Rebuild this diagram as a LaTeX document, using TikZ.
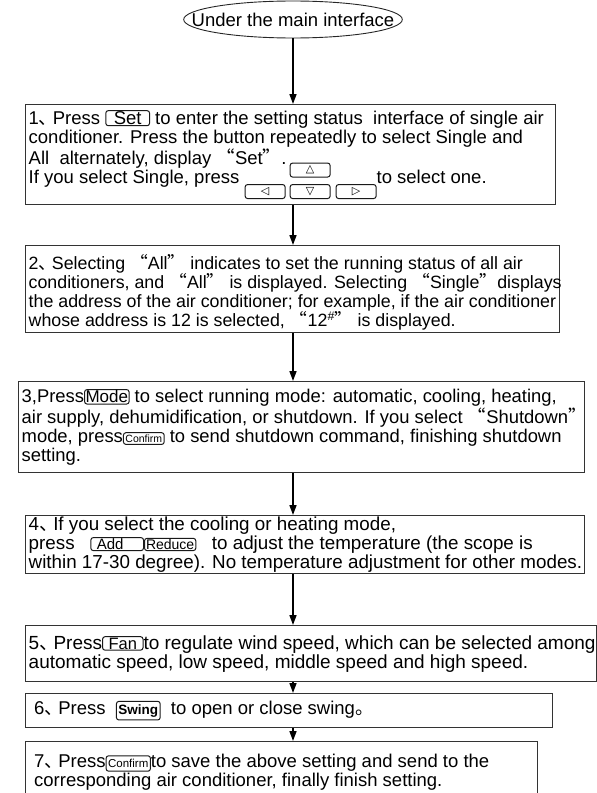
\documentclass[tikz,border=0pt]{standalone}
\usepackage{fontspec}
\setmainfont{Liberation Sans}
\newfontfamily\cjk{Noto Sans CJK SC}
\newfontfamily\symfont{DejaVu Sans}
\usetikzlibrary{arrows.meta, shapes.geometric, positioning}

\newcommand{\ql}{{\cjk “}}
\newcommand{\qr}{{\cjk ”}}
\newcommand{\dun}{\makebox[0.75em][l]{\cjk 、}}

\tikzset{keycap/.style={draw=black!90, line width=1bp, rounded corners=2.5bp,
                        minimum width=0pt, minimum height=0pt,
                        inner xsep=2bp, inner ysep=1bp, anchor=base}}
\tikzset{padkey/.style={keycap, anchor=center, minimum width=40bp,
                        minimum height=14bp, inner sep=0pt,
                        font=\symfont\fontsize{11bp}{11bp}\selectfont}}

% key caps inside the step texts
\newcommand{\btn}[3][]{\tikz[baseline=(k.base)]\node[keycap,
  font=\fontsize{#2}{#2}\selectfont,#1] (k) {#3};}
\newcommand{\padkeys}{\raisebox{0pt}[0pt][\depth]{\tikz[baseline=0bp, x=1bp, y=1bp]{%
  \node[padkey] (pu) at (65,13) {△};
  \node[padkey] (pl) at (20,-8.5) {◁};
  \node[padkey] (pd) at (65,-8.5) {▽};
  \node[padkey] (pr) at (111,-8.5) {▷};}}}

\begin{document}
\begin{tikzpicture}[x=1bp, y=-1bp]
        % Setup the styles for the boxes
        \tikzset{start style/.style={ellipse, draw=black!85, line width=0.9bp,
                                     minimum width=212bp, minimum height=37bp,
                                     inner xsep=-24bp, inner ysep=1bp,
                                     font=\fontsize{18.5bp}{19bp}\selectfont},
                 stepbox/.style={draw=black!80, line width=1.2bp,
                                 anchor=north west, inner sep=0pt},
                 steptext/.style={anchor=west, align=left, inner sep=0pt,
                                  font=\fontsize{#1}{19bp}\selectfont},
                 steptext/.default=18.5bp,
                 flow/.style={line width=1.6bp, -{Triangle[length=10bp,width=7bp]}}}
        \useasboundingbox (0,0) rectangle (597,793);

        % Draw the start and the step boxes
        \node[start style] at (293, 19.5) (top) {Under the main interface};
        \node[stepbox, minimum width=530bp, minimum height=100bp] at (25, 104) (s1) {};
        \node[stepbox, minimum width=534bp, minimum height=87bp] at (25, 245) (s2) {};
        \node[stepbox, minimum width=566bp, minimum height=91bp] at (18, 381) (s3) {};
        \node[stepbox, minimum width=559bp, minimum height=58bp] at (25, 515) (s4) {};
        \node[stepbox, minimum width=571bp, minimum height=56bp] at (25, 625) (s5) {};
        \node[stepbox, minimum width=527bp, minimum height=34bp] at (25, 693) (s6) {};
        \node[stepbox, minimum width=512bp, minimum height=62bp] at (25, 741) (s7) {};

        % Texts of the steps
        \node[steptext] at ([xshift=3.5bp]s1.west) (t1) {1\dun Press \btn[inner xsep=8bp]{18.5bp}{Set} to enter the setting status \ interface of single air\\
          conditioner. Press the button repeatedly to select Single and\\
          All \ alternately, display \ql Set\qr .\\
          If you select Single, press \padkeys to select one.};
        \node[steptext=17.8bp] at ([xshift=3.5bp, yshift=-3bp]s2.west) (t2) {2\dun Selecting \ql All\qr \ indicates to set the running status of all air\\
          conditioners, and \ql All\qr \ is displayed. Selecting \ql Single\qr displays\\
          the address of the air conditioner; for example, if the air conditioner\\
          whose address is 12 is selected, \ql 12\textsuperscript{\#}\qr \ is displayed.};
        \node[steptext=18.4bp] at ([xshift=3.5bp]s3.west) (t3) {3,Press\btn[inner xsep=1bp]{17bp}{Mode} to select running mode: automatic, cooling, heating,\\
          air supply, dehumidification, or shutdown. If you select \ql Shutdown\qr\\
          mode, press\btn[inner ysep=2bp]{10.5bp}{Confirm} to send shutdown command, finishing shutdown\\
          setting.};
        \node[steptext=18.8bp] at ([xshift=3.5bp]s4.west) (t4) {4\dun If you select the cooling or heating mode,\\
          press \ \ \btn[inner xsep=6bp]{15bp}{Add\hspace{14bp}}\btn[inner xsep=1.5bp]{14bp}{Reduce} \ \ to adjust the temperature (the scope is\\
          within 17-30 degree). No temperature adjustment for other modes.};
        \node[steptext=19bp] at ([xshift=3.5bp]s5.west) (t5) {5\dun Press\btn[inner xsep=6bp]{16.5bp}{Fan}to regulate wind speed, which can be selected among\\
          automatic speed, low speed, middle speed and high speed.};
        \node[steptext] at ([xshift=9bp]s6.west) (t6) {6\dun Press \ \btn[font=\bfseries\fontsize{13.5bp}{13.5bp}\selectfont, inner ysep=3bp]{13.5bp}{Swing} \ to open or close swing{\cjk 。}};
        \node[steptext, anchor=north west, below right=13bp and 9bp of s7.north west] (t7) {7\dun Press\btn[inner ysep=3.5bp]{11.5bp}{Confirm}to save the above setting and send to the\\
          corresponding air conditioner, finally finish setting.};

        % Connect the boxes with arrows
        \draw[flow] (top.south) -- (top.south |- s1.north);
        \draw[flow] (s1.south -| top.south) -- (s2.north -| top.south);
        \draw[flow] (s2.south -| top.south) -- (s3.north -| top.south);
        \draw[flow] (s3.south -| top.south) -- (s4.north -| top.south);
        \draw[flow] (s4.south -| top.south) -- (s5.north -| top.south);
        \draw[flow] (s5.south -| top.south) -- (s6.north -| top.south);
        \draw[flow] (s6.south -| top.south) -- (s7.north -| top.south);
\end{tikzpicture}
\end{document}
